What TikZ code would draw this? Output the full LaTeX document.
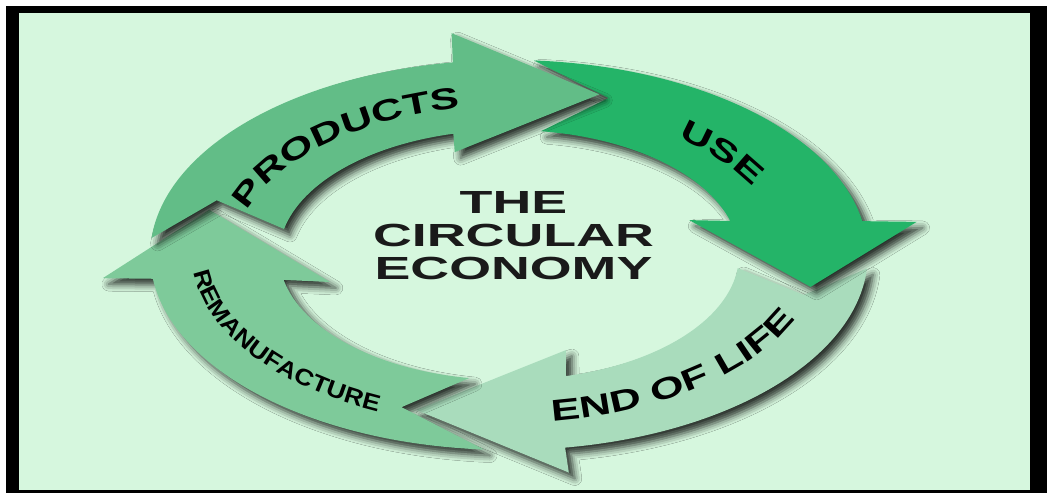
\documentclass[tikz,border=0pt]{standalone}
\usepackage{fontspec}
\setmainfont{Liberation Sans}
\newfontfamily\ringfont{Liberation Sans}[FakeStretch=1.45]
\newfontfamily\narrowringfont{Liberation Sans}[FakeStretch=1.15]
\usetikzlibrary{decorations.text,shadows.blur}

\definecolor{mint}{HTML}{D6F7DE}
\definecolor{prodgreen}{HTML}{62BD87}
\definecolor{usegreen}{HTML}{24B468}
\definecolor{eolgreen}{HTML}{A9DCBC}
\definecolor{remangreen}{HTML}{7ECA9A}
\definecolor{ink}{HTML}{1A1A1A}

\begin{document}
\begin{tikzpicture}[x=1pt,y=1pt]
	\tikzstyle{Shade}		= [blur shadow={shadow xshift=6pt, shadow yshift=-6pt, shadow blur radius=7pt, shadow opacity=80}]
	\tikzstyle{Products}	= [fill=prodgreen, Shade]
	\tikzstyle{Use}			= [fill=usegreen, Shade]
	\tikzstyle{EndOfLife}	= [fill=eolgreen, Shade]
	\tikzstyle{Reman}		= [fill=remangreen, Shade]
	\tikzstyle{Title}		= [align=center, xscale=1.68, text=ink, font=\bfseries\fontsize{32}{33}\selectfont]

	% frame
	\useasboundingbox (-509,-238) rectangle (538,255);
	\fill[white] (-509,-238) rectangle (538,255);
	\fill[black] (-503,-238) rectangle (538,249);
	\fill[mint] (-490,-235) rectangle (521,242);

	% ring of arrows
	\begin{scope}[xscale=1.84]
		\fill[EndOfLife] (-4:195) arc[start angle=-4, end angle=-81, radius=195] -- (-81.5:220) -- (-108:163) -- (-72:100) -- (-75.6:125) arc[start angle=-75.6, end angle=-6, radius=125] -- (-14:165) -- cycle;
		\fill[Reman] (266:195) arc[start angle=266, end angle=187, radius=195] -- (186:222) -- (164.5:169) -- (195.5:101) -- (191.5:125) arc[start angle=191.5, end angle=260, radius=125] -- (249:163) -- cycle;
		\fill[Use] (86:195) arc[start angle=86, end angle=10, radius=195] -- (8.5:224) -- (-11:167) -- (19.6:104) -- (15.8:125) arc[start angle=15.8, end angle=82, radius=125] -- (71:166) -- cycle;
		\fill[Products] (175:195) arc[start angle=175, end angle=99, radius=195] -- (98:224) -- (73:168) -- (106:107) -- (104:125) arc[start angle=104, end angle=168, radius=125] -- (161:168) -- cycle;

		% labels along the ring
		\path[decorate, decoration={text along path, text align=center, text={|\ringfont\bfseries\fontsize{30}{30}\selectfont|PRODUCTS}}] (179:149) arc[start angle=179, end angle=91, radius=149];
		\path[decorate, decoration={text along path, text align=center, text={|\ringfont\bfseries\fontsize{30}{30}\selectfont|USE}}] (63:149) arc[start angle=63, end angle=11, radius=149];
		\path[decorate, decoration={text along path, text align=center, text={|\ringfont\bfseries\fontsize{30}{30}\selectfont|END OF LIFE}}] (-88:168) arc[start angle=-88, end angle=-12, radius=168];
		\path[decorate, decoration={text along path, text align=center, text={|\narrowringfont\bfseries\fontsize{23}{23}\selectfont|REMANUFACTURE}}] (178:172) arc[start angle=178, end angle=250, radius=172];
	\end{scope}

	\node (title) at (4.5,19) [Title] {THE\\CIRCULAR\\ECONOMY};
\end{tikzpicture}
\end{document}
